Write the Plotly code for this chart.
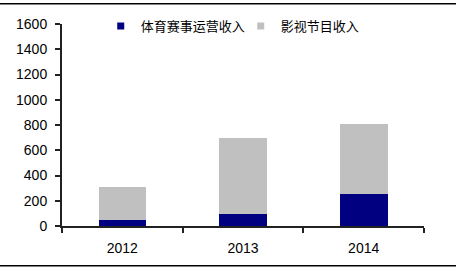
import plotly.graph_objects as go

years = ["2012", "2013", "2014"]
sports_revenue = [51, 98, 255]
film_tv_revenue = [257, 600, 551]
series_names = ["体育赛事运营收入", "影视节目收入"]
colors = ["#000080", "#C0C0C0"]
y_ticks = [0, 200, 400, 600, 800, 1000, 1200, 1400, 1600]

fig = go.Figure()
for name, vals, c in zip(series_names, [sports_revenue, film_tv_revenue], colors):
    fig.add_trace(go.Bar(x=years, y=vals, name=name, marker=dict(color=c, line=dict(width=0)),
                         showlegend=False, width=0.395))
for name, c in zip(series_names, colors):
    fig.add_trace(go.Scatter(x=[None], y=[None], mode="markers", name=name,
                             marker=dict(symbol="square", size=7, color=c)))

top_y = (226.5 - 2.5) / 203.5
bot_y = (226.5 - 266.5) / 203.5
fig.update_layout(
    width=457, height=271,
    margin=dict(l=62, r=33, t=23, b=44.5),
    barmode="stack",
    plot_bgcolor="white", paper_bgcolor="white",
    showlegend=True,
    legend=dict(orientation="h", x=0.107, y=0.985, xanchor="left", yanchor="middle",
                traceorder="normal", entrywidth=95, entrywidthmode="pixels",
                font=dict(family="Noto Sans CJK SC", size=13, color="#000"),
                itemwidth=30, bgcolor="rgba(0,0,0,0)"),
    font=dict(family="Liberation Sans, Arial", size=14, color="#000"),
    xaxis=dict(type="category", range=[-0.5, 2.5], showline=True, linecolor="#222", linewidth=2,
               ticks="outside", tickson="boundaries", ticklen=5, tickwidth=1.5, tickcolor="#222",
               showgrid=False, zeroline=False, ticklabelstandoff=8),
    yaxis=dict(range=[0, 1600], tickvals=y_ticks, showline=True, linecolor="#222", linewidth=2,
               ticks="outside", ticklen=5, tickwidth=1.5, tickcolor="#222",
               showgrid=False, zeroline=False, ticklabelstandoff=5),
    shapes=[
        dict(type="line", xref="paper", yref="paper", x0=-62 / 362, x1=(456 - 62) / 362, y0=top_y, y1=top_y,
             line=dict(color="#000", width=1.5)),
        dict(type="line", xref="paper", yref="paper", x0=-62 / 362, x1=(456 - 62) / 362, y0=bot_y, y1=bot_y,
             line=dict(color="#000", width=1.5)),
    ],
)

fig.write_html("out.html")
